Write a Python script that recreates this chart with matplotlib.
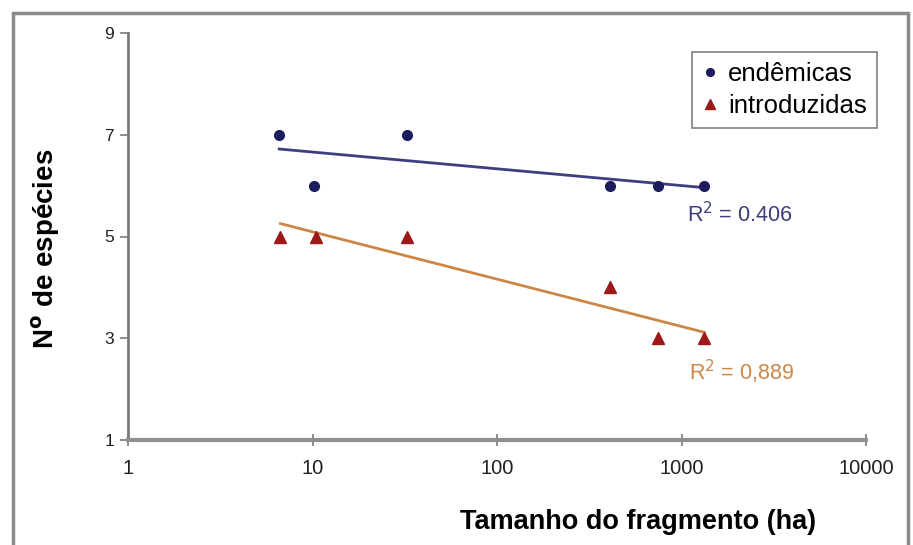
import numpy as np
import matplotlib
matplotlib.use("Agg")
import matplotlib.pyplot as plt
from matplotlib.patches import Rectangle

# Data
area_endemicas = [6.6, 10.2, 32.5, 410, 750, 1320]
n_endemicas = [7, 6, 7, 6, 6, 6]
area_introduzidas = [6.7, 10.4, 32.7, 410, 750, 1330]
n_introduzidas = [5, 5, 5, 4, 3, 3]
series_labels = ["endêmicas", "introduzidas"]
r2_labels = ["R$^2$ = 0.406", "R$^2$ = 0,889"]
x_ticks = [1, 10, 100, 1000, 10000]
x_ticklabels = ["1", "10", "100", "1000", "10000"]
y_ticks = [1, 3, 5, 7, 9]

c_end = "#1c1c5e"
c_end_line = "#3d3d80"
c_int = "#9e1818"
c_int_line = "#cc8748"

fig = plt.figure(figsize=(9.13, 5.45), dpi=100)
fig.patch.set_facecolor("white")
fig.add_artist(Rectangle((13 / 913, -0.05), (908 - 13) / 913, 1.05 - 13 / 545,
                         transform=fig.transFigure, fill=False,
                         edgecolor="#8a8a8a", linewidth=2.5))

ax = fig.add_axes([128 / 913, 1 - 440 / 545, (866 - 128) / 913, (440 - 33) / 545])
ax.set_xscale("log")
ax.set_xlim(1, 10000)
ax.set_ylim(1, 9)

ax.plot(area_endemicas, n_endemicas, "o", color=c_end, markersize=7, linestyle="none",
        label=series_labels[0], zorder=3)
ax.plot(area_introduzidas, n_introduzidas, "^", color=c_int, markersize=8.5, linestyle="none",
        label=series_labels[1], zorder=3)

for xs, ys, col in [(area_endemicas, n_endemicas, c_end_line),
                    (area_introduzidas, n_introduzidas, c_int_line)]:
    lx = np.log10(xs)
    m, b = np.polyfit(lx, ys, 1)
    xx = np.array([min(xs), max(xs)])
    ax.plot(xx, m * np.log10(xx) + b, color=col, linewidth=2, zorder=2)

ax.text(0.758, 0.555, r2_labels[0], transform=ax.transAxes, color=c_end_line,
        fontsize=15.5, family="Liberation Sans", va="center")
ax.text(0.760, 0.167, r2_labels[1], transform=ax.transAxes, color=c_int_line,
        fontsize=15.5, family="Liberation Sans", va="center")

for s in ["top", "right"]:
    ax.spines[s].set_visible(False)
ax.spines["left"].set_color("#7a7a7a")
ax.spines["left"].set_linewidth(2)
ax.spines["bottom"].set_color("#8f8f8f")
ax.spines["bottom"].set_linewidth(3)

ax.set_xticks(x_ticks)
ax.set_xticklabels(x_ticklabels)
ax.xaxis.set_minor_locator(matplotlib.ticker.NullLocator())
ax.set_yticks(y_ticks)
ax.tick_params(axis="x", direction="inout", length=8, width=1.2, color="#7a7a7a",
               labelsize=14.5, pad=10)
ax.tick_params(axis="y", direction="out", length=6, width=1.2, color="#7a7a7a",
               labelsize=12.5, pad=4)
for lab in ax.get_xticklabels() + ax.get_yticklabels():
    lab.set_family("Liberation Sans")
    lab.set_color("#202020")

leg = ax.legend(loc="upper right", bbox_to_anchor=(1.015, 0.953), frameon=True,
                fancybox=False, edgecolor="#606060", prop={"family": "Liberation Sans", "size": 18.5},
                handlelength=0.6, handletextpad=0.4, borderpad=0.4, labelspacing=0.3,
                borderaxespad=0, markerscale=0.8)
leg.get_frame().set_linewidth(1.2)

fig.text(638 / 913, 1 - 522 / 545, "Tamanho do fragmento (ha)", ha="center", va="center",
         fontsize=19.5, fontweight="bold", family="Liberation Sans")
fig.text(46 / 913, 1 - 249 / 545, r"N$^{\mathbf{o}}$ de espécies", ha="center", va="center",
         rotation=90, fontsize=20, fontweight="bold", family="Liberation Sans")

fig.savefig("out.png", dpi=100)
